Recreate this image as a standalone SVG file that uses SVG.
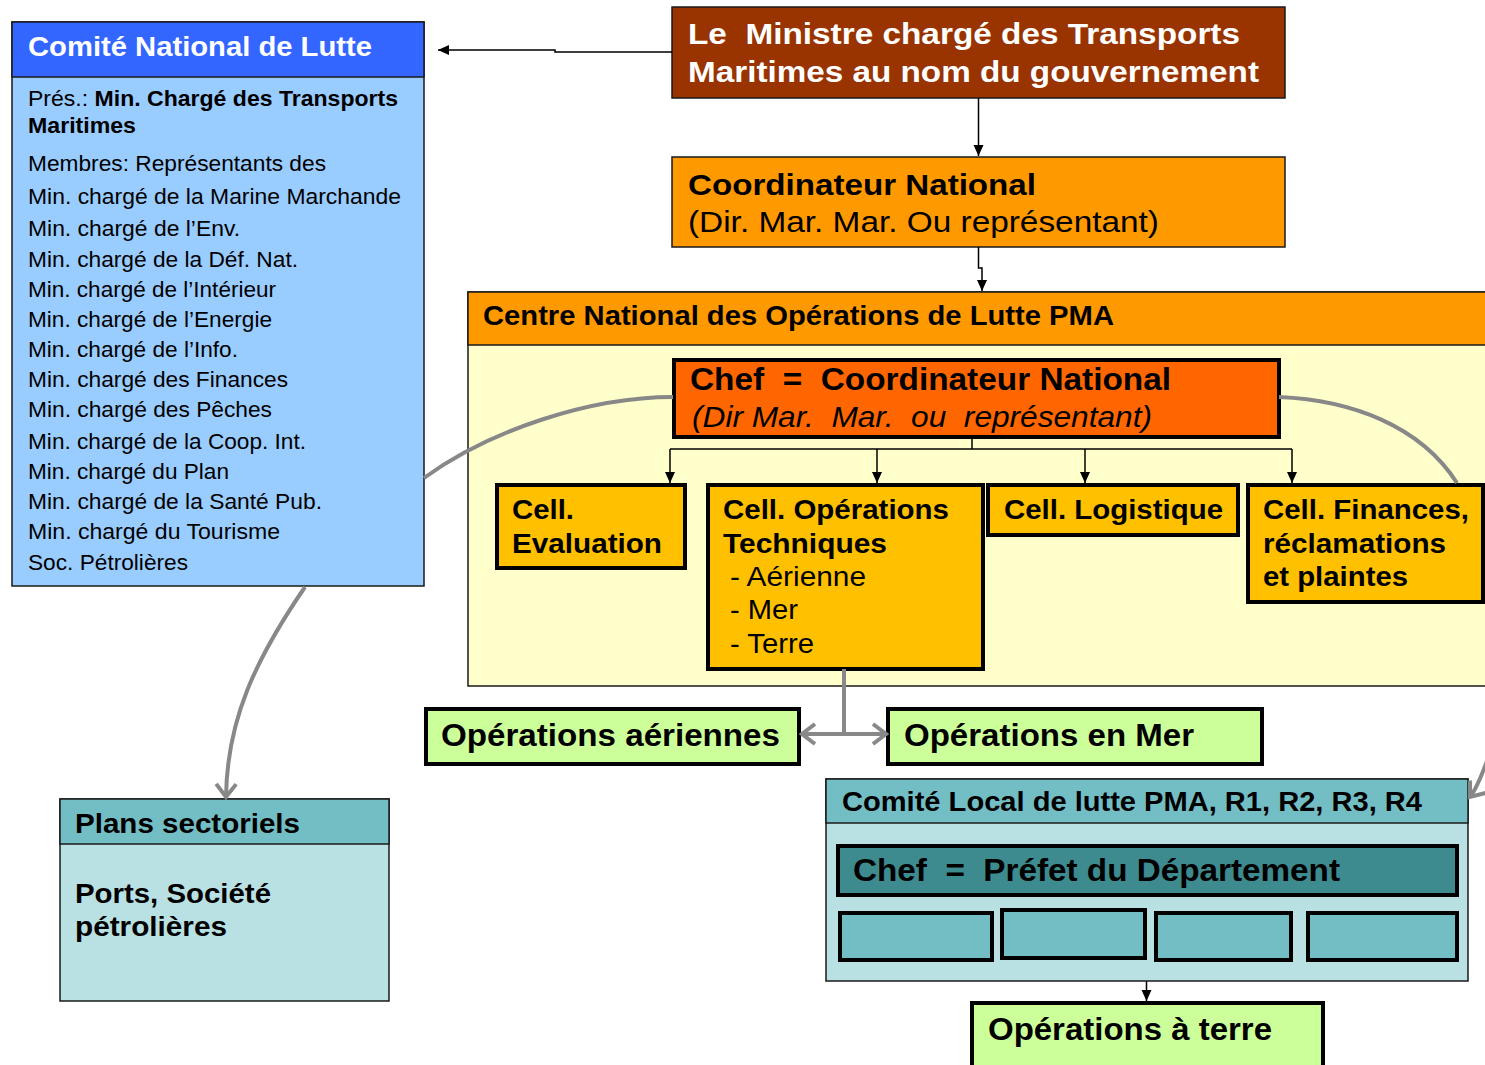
<svg xmlns="http://www.w3.org/2000/svg" width="1485" height="1065" viewBox="0 0 1485 1065">
<style>
text{font-family:"Liberation Sans",Arial,sans-serif;fill:#000}
.b{font-weight:bold}
.w{fill:#fff}
.thin{stroke:#1a1a1a;stroke-width:1.5}
.thick{stroke:#000;stroke-width:4}
.blk{fill:none;stroke:#000;stroke-width:1.5}
.gry{fill:none;stroke:#888;stroke-width:4}
.body{font-size:22px}
</style>
<defs>
<marker id="ah" markerUnits="userSpaceOnUse" markerWidth="12" markerHeight="12" viewBox="0 0 12 12" refX="11" refY="6" orient="auto">
<path d="M0,1 L11,6 L0,11 Z" fill="#000"/>
</marker>
<marker id="gh" markerUnits="userSpaceOnUse" markerWidth="20" markerHeight="24" viewBox="0 0 20 24" refX="17" refY="12" orient="auto">
<path d="M4,2 L17,12 L4,22" fill="none" stroke="#888" stroke-width="4" stroke-linejoin="miter"/>
</marker>
</defs>

<g id="comite-national">
<rect x="12" y="22" width="412" height="564" fill="#99CCFF" class="thin"/>
<rect x="12" y="22" width="412" height="55" fill="#3366FF" class="thin"/>
<text x="28" y="56" class="b w" font-size="28" textLength="344" lengthAdjust="spacingAndGlyphs">Comité National de Lutte</text>
<text class="body" x="28" y="106" textLength="370" lengthAdjust="spacingAndGlyphs">Prés.: <tspan class="b">Min. Chargé des Transports</tspan></text>
<text class="body b" x="28" y="133" textLength="108" lengthAdjust="spacingAndGlyphs">Maritimes</text>
<text class="body" x="28" y="171" textLength="298" lengthAdjust="spacingAndGlyphs">Membres: Représentants des</text>
<text class="body" x="28" y="204" textLength="373" lengthAdjust="spacingAndGlyphs">Min. chargé de la Marine Marchande</text>
<text class="body" x="28" y="236" textLength="212" lengthAdjust="spacingAndGlyphs">Min. chargé de l’Env.</text>
<text class="body" x="28" y="267" textLength="270" lengthAdjust="spacingAndGlyphs">Min. chargé de la Déf. Nat.</text>
<text class="body" x="28" y="297" textLength="248" lengthAdjust="spacingAndGlyphs">Min. chargé de l’Intérieur</text>
<text class="body" x="28" y="327" textLength="244" lengthAdjust="spacingAndGlyphs">Min. chargé de l’Energie</text>
<text class="body" x="28" y="357" textLength="210" lengthAdjust="spacingAndGlyphs">Min. chargé de l’Info.</text>
<text class="body" x="28" y="387" textLength="260" lengthAdjust="spacingAndGlyphs">Min. chargé des Finances</text>
<text class="body" x="28" y="417" textLength="244" lengthAdjust="spacingAndGlyphs">Min. chargé des Pêches</text>
<text class="body" x="28" y="449" textLength="278" lengthAdjust="spacingAndGlyphs">Min. chargé de la Coop. Int.</text>
<text class="body" x="28" y="479" textLength="201" lengthAdjust="spacingAndGlyphs">Min. chargé du Plan</text>
<text class="body" x="28" y="509" textLength="294" lengthAdjust="spacingAndGlyphs">Min. chargé de la Santé Pub.</text>
<text class="body" x="28" y="539" textLength="252" lengthAdjust="spacingAndGlyphs">Min. chargé du Tourisme</text>
<text class="body" x="28" y="570" textLength="160" lengthAdjust="spacingAndGlyphs">Soc. Pétrolières</text>
</g>

<g id="ministre">
<rect x="672" y="7" width="613" height="91" fill="#993300" class="thin"/>
<text x="688" y="44" class="b w" font-size="30" xml:space="preserve" textLength="552" lengthAdjust="spacingAndGlyphs">Le  Ministre chargé des Transports</text>
<text x="688" y="82" class="b w" font-size="30" textLength="571" lengthAdjust="spacingAndGlyphs">Maritimes au nom du gouvernement</text>
</g>

<g id="coordinateur">
<rect x="672" y="157" width="613" height="90" fill="#FF9900" class="thin"/>
<text x="688" y="195" class="b" font-size="30" textLength="348" lengthAdjust="spacingAndGlyphs">Coordinateur National</text>
<text x="688" y="232" font-size="30" textLength="471" lengthAdjust="spacingAndGlyphs">(Dir. Mar. Mar. Ou représentant)</text>
</g>

<g id="centre-national">
<rect x="468" y="292" width="1030" height="394" fill="#FFFFCC" class="thin"/>
<rect x="468" y="292" width="1030" height="53" fill="#FF9900" class="thin"/>
<text x="483" y="325" class="b" font-size="27" textLength="631" lengthAdjust="spacingAndGlyphs">Centre National des Opérations de Lutte PMA</text>
</g>

<g id="chef-coordinateur">
<rect x="674" y="360" width="605" height="77" fill="#FF6600" class="thick"/>
<text x="690" y="390" class="b" font-size="31" xml:space="preserve" textLength="481" lengthAdjust="spacingAndGlyphs">Chef  =  Coordinateur National</text>
<text x="692" y="427" font-size="30" font-style="italic" xml:space="preserve" textLength="460" lengthAdjust="spacingAndGlyphs">(Dir Mar.  Mar.  ou  représentant)</text>
</g>

<g id="cell-evaluation">
<rect x="497" y="485" width="188" height="83" fill="#FFC000" class="thick"/>
<text x="512" y="519" class="b" font-size="28" textLength="62" lengthAdjust="spacingAndGlyphs">Cell.</text>
<text x="512" y="553" class="b" font-size="28" textLength="150" lengthAdjust="spacingAndGlyphs">Evaluation</text>
</g>

<g id="cell-operations">
<rect x="708" y="485" width="275" height="184" fill="#FFC000" class="thick"/>
<text x="723" y="519" class="b" font-size="28" textLength="226" lengthAdjust="spacingAndGlyphs">Cell. Opérations</text>
<text x="723" y="553" class="b" font-size="28" textLength="164" lengthAdjust="spacingAndGlyphs">Techniques</text>
<text x="730" y="586" font-size="28" textLength="136" lengthAdjust="spacingAndGlyphs">- Aérienne</text>
<text x="730" y="619" font-size="28" textLength="68" lengthAdjust="spacingAndGlyphs">- Mer</text>
<text x="730" y="653" font-size="28" textLength="84" lengthAdjust="spacingAndGlyphs">- Terre</text>
</g>

<g id="cell-logistique">
<rect x="988" y="485" width="250" height="50" fill="#FFC000" class="thick"/>
<text x="1004" y="519" class="b" font-size="28" textLength="219" lengthAdjust="spacingAndGlyphs">Cell. Logistique</text>
</g>

<g id="cell-finances">
<rect x="1248" y="485" width="235" height="117" fill="#FFC000" class="thick"/>
<text x="1263" y="519" class="b" font-size="28" textLength="206" lengthAdjust="spacingAndGlyphs">Cell. Finances,</text>
<text x="1263" y="553" class="b" font-size="28" textLength="183" lengthAdjust="spacingAndGlyphs">réclamations</text>
<text x="1263" y="586" class="b" font-size="28" textLength="145" lengthAdjust="spacingAndGlyphs">et plaintes</text>
</g>

<g id="ops-aeriennes">
<rect x="426" y="709" width="373" height="55" fill="#CCFF99" class="thick"/>
<text x="441" y="746" class="b" font-size="31" textLength="339" lengthAdjust="spacingAndGlyphs">Opérations aériennes</text>
</g>

<g id="ops-mer">
<rect x="888" y="709" width="374" height="55" fill="#CCFF99" class="thick"/>
<text x="904" y="746" class="b" font-size="31" textLength="290" lengthAdjust="spacingAndGlyphs">Opérations en Mer</text>
</g>

<g id="comite-local">
<rect x="826" y="779" width="642" height="202" fill="#B9E0E3" class="thin"/>
<rect x="826" y="779" width="642" height="44" fill="#72BEC4" class="thin"/>
<text x="842" y="811" class="b" font-size="27" textLength="580" lengthAdjust="spacingAndGlyphs">Comité Local de lutte PMA, R1, R2, R3, R4</text>
<rect x="838" y="846" width="619" height="49" fill="#3D8A8F" class="thick"/>
<text x="853" y="881" class="b" font-size="31" xml:space="preserve" textLength="487" lengthAdjust="spacingAndGlyphs">Chef  =  Préfet du Département</text>
<rect x="840" y="913" width="152" height="47" fill="#72BEC4" class="thick"/>
<rect x="1002" y="910" width="143" height="48" fill="#72BEC4" class="thick"/>
<rect x="1156" y="913" width="135" height="47" fill="#72BEC4" class="thick"/>
<rect x="1308" y="913" width="149" height="47" fill="#72BEC4" class="thick"/>
</g>

<g id="ops-terre">
<rect x="972" y="1003" width="351" height="70" fill="#CCFF99" class="thick"/>
<text x="988" y="1040" class="b" font-size="31" textLength="284" lengthAdjust="spacingAndGlyphs">Opérations à terre</text>
</g>

<g id="plans-sectoriels">
<rect x="60" y="799" width="329" height="202" fill="#B9E0E3" class="thin"/>
<rect x="60" y="799" width="329" height="45" fill="#72BEC4" class="thin"/>
<text x="75" y="833" class="b" font-size="28" textLength="225" lengthAdjust="spacingAndGlyphs">Plans sectoriels</text>
<text x="75" y="903" class="b" font-size="28" textLength="196" lengthAdjust="spacingAndGlyphs">Ports, Société</text>
<text x="75" y="936" class="b" font-size="28" textLength="152" lengthAdjust="spacingAndGlyphs">pétrolières</text>
</g>

<g id="connectors">
<path class="blk" d="M672,52 H555 V50 H438" marker-end="url(#ah)"/>
<path class="blk" d="M978.5,98 V156" marker-end="url(#ah)"/>
<path class="blk" d="M978.5,247 V268 H982 V291" marker-end="url(#ah)"/>
<path class="blk" d="M972,437 V449" />
<path class="blk" d="M670,449 H1292"/>
<path class="blk" d="M670,449 V483" marker-end="url(#ah)"/>
<path class="blk" d="M877,449 V483" marker-end="url(#ah)"/>
<path class="blk" d="M1085,449 V483" marker-end="url(#ah)"/>
<path class="blk" d="M1292,449 V483" marker-end="url(#ah)"/>
<path class="blk" d="M1146.5,981 V1001" marker-end="url(#ah)"/>
<path class="gry" d="M673,397 C590,397 490,430 424,478"/>
<path class="gry" d="M1279,397 C1350,400 1420,425 1457,483"/>
<path class="gry" d="M305,587 C255,660 227,720 226,797" marker-end="url(#gh)"/>
<path class="gry" d="M844,669 V734"/>
<path class="gry" d="M844,734 H802" marker-end="url(#gh)"/>
<path class="gry" d="M844,734 H886" marker-end="url(#gh)"/>
<path class="gry" d="M1488,758 C1482,775 1477,788 1470,797" marker-end="url(#gh)"/>
</g>
</svg>
